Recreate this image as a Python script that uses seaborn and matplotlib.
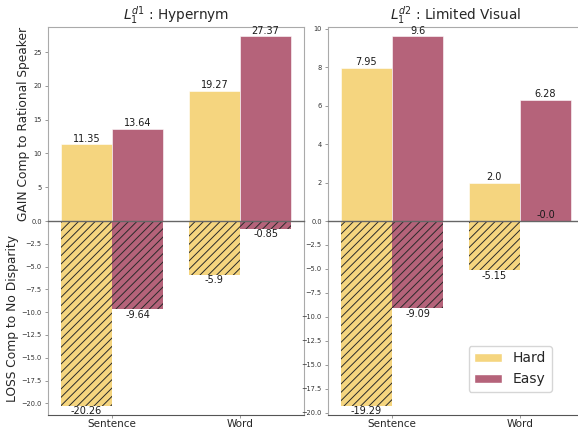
import numpy as np
import pandas as pd
import matplotlib
matplotlib.use("Agg")
import matplotlib.pyplot as plt
import seaborn as sns

# ============================================================================
# DATA
# ============================================================================

levels = ["Sentence", "Word"]
difficulty = ["Hard", "Easy"]

hyper_gain_hard = [11.35, 19.27]
hyper_gain_easy = [13.64, 27.37]
hyper_loss_hard = [-20.26, -5.9]
hyper_loss_easy = [-9.64, -0.85]

vis_gain_hard = [7.95, 2.0]
vis_gain_easy = [9.6, 6.28]
vis_loss_hard = [-19.29, -5.15]
vis_loss_easy = [-9.09, -0.0]

titles = [r"$L_1^{d1}$ : Hypernym", r"$L_1^{d2}$ : Limited Visual"]
colors = ["#F5D57F", "#B5637A"]

# ============================================================================
# STYLE
# ============================================================================

sns.set_style("white")
plt.rcParams["font.family"] = ["DejaVu Sans"]
plt.rcParams["hatch.color"] = "#2a2a2a"
plt.rcParams["hatch.linewidth"] = 0.7


def make_df(hard, easy):
    return pd.DataFrame({
        "level": levels * 2,
        "difficulty": [difficulty[0]] * 2 + [difficulty[1]] * 2,
        "value": list(hard) + list(easy),
    })


fig = plt.figure(figsize=(5.78, 4.32), dpi=100)

# axes positions (left, width) per column, in figure fractions
cols = [
    (48 / 578, 256 / 578),
    (328 / 578, 256 / 578),
]
top_b, top_h = (432 - 221) / 432, 194 / 432
bot_b, bot_h = (432 - 415) / 432, 194 / 432

panels = [
    (hyper_gain_hard, hyper_gain_easy, hyper_loss_hard, hyper_loss_easy,
     [5, 10, 15, 20, 25]),
    (vis_gain_hard, vis_gain_easy, vis_loss_hard, vis_loss_easy,
     [2, 4, 6, 8, 10]),
]

for i, (gh, ge, lh, le, gticks) in enumerate(panels):
    left, width = cols[i]
    ax_top = fig.add_axes([left, top_b, width, top_h])
    ax_bot = fig.add_axes([left, bot_b, width, bot_h])

    # ---------------- GAIN ----------------
    sns.barplot(
        data=make_df(gh, ge), x="level", y="value", hue="difficulty",
        hue_order=difficulty, palette=colors, saturation=1,
        edgecolor="white", linewidth=0.4, legend=False, ax=ax_top
    )
    for cont, vals in zip(ax_top.containers, [gh, ge]):
        ax_top.bar_label(cont, labels=[str(v) for v in vals],
                         padding=0.5, fontsize=7, color="#1a1a1a")
    ax_top.set_ylim(0, max(gh + ge) * 1.05)
    ax_top.set_xlim(-0.5, 1.5)
    ax_top.set_yticks(gticks)
    ax_top.set_xticks([])
    ax_top.set_xlabel("")
    ax_top.set_ylabel("")
    ax_top.spines["bottom"].set_visible(False)
    ax_top.set_title(titles[i], fontsize=9.8, pad=5)

    # ---------------- LOSS ----------------
    sns.barplot(
        data=make_df(lh, le), x="level", y="value", hue="difficulty",
        hue_order=difficulty, palette=colors, saturation=1,
        edgecolor="#2a2a2a", linewidth=0, legend=False, ax=ax_bot
    )
    for cont, vals in zip(ax_bot.containers, [lh, le]):
        for bar in cont:
            bar.set_hatch("////")
        ax_bot.bar_label(cont, labels=[str(v) for v in vals],
                         padding=0.5, fontsize=7, color="#1a1a1a")
    ax_bot.set_ylim(min(lh + le) * 1.05, 0)
    ax_bot.set_xlim(-0.5, 1.5)
    lticks = np.arange(0, min(lh + le) * 1.05, -2.5)
    ax_bot.set_yticks(lticks)
    ax_bot.set_yticklabels([f"{t:.1f}".replace("-", "\u2212") for t in lticks])
    ax_bot.set_xlabel("")
    ax_bot.set_ylabel("")

    for ax in (ax_top, ax_bot):
        for side in ["left", "right", "top"]:
            ax.spines[side].set_color("#aaaaaa")
            ax.spines[side].set_linewidth(0.8)
        ax.tick_params(axis="y", which="both", left=True, length=2.5,
                       width=0.6, color="#888888", labelsize=4.8, pad=2,
                       labelcolor="#333333")
    # zero line between gain and loss
    ax_bot.spines["top"].set_color("#666666")
    ax_bot.spines["top"].set_linewidth(1.0)
    ax_bot.spines["bottom"].set_color("#555555")
    ax_bot.tick_params(axis="x", bottom=True, length=2, width=0.6,
                       color="#888888", labelsize=7.5, pad=1)

    if i == 0:
        ax_top.set_ylabel("GAIN Comp to Rational Speaker", fontsize=8.8,
                          labelpad=2)
        ax_bot.set_ylabel("LOSS Comp to No Disparity", fontsize=8.8,
                          labelpad=2)
    else:
        handles = [
            plt.Rectangle((0, 0), 1, 1, facecolor=colors[0], edgecolor="white"),
            plt.Rectangle((0, 0), 1, 1, facecolor=colors[1], edgecolor="white"),
        ]
        ax_bot.legend(handles, difficulty, loc="lower right",
                      bbox_to_anchor=(0.875, 0.119), borderaxespad=0,
                      fontsize=10, handlelength=2.0, frameon=True)

fig.savefig("out.png", dpi=100)
